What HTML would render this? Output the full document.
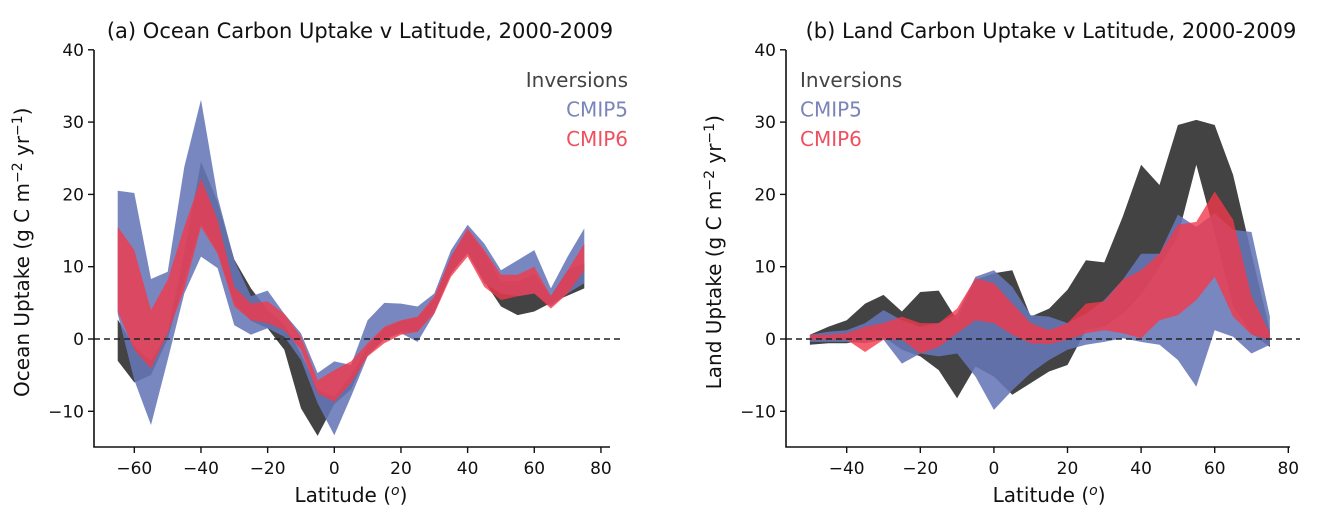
<!DOCTYPE html>
<html><head><meta charset="utf-8"><style>
body{margin:0;background:#fff;width:1334px;height:526px;overflow:hidden}
svg{display:block;font-family:"DejaVu Sans","Liberation Sans",sans-serif}
</style></head><body>
<svg id="chart" width="1334" height="526"></svg>
<script>
const latOcean=[-65,-60,-55,-50,-45,-40,-35,-30,-25,-20,-15,-10,-5,0,5,10,15,20,25,30,35,40,45,50,55,60,65,70,75];
const oceanInvHi=[2.7,-1,-3,1,12,24.5,19,11,7,4,2,-2,-7,-8,-5,-1,1.5,2.5,3,5.5,11.5,15,12,8,8,9,6,9.5,10.5];
const oceanInvLo=[-3,-6,-5,0,8,16,12,5,2.5,1.5,-1.5,-9.6,-13.4,-9,-7,-2,0,1,1,4,9,12,8,4.5,3.3,3.8,5,6,7];
const oceanC5Hi=[20.5,20.2,8.3,9.3,23.8,33.1,19.7,10.9,5.9,6.7,3.5,0.8,-4.7,-3.1,-3.6,2.6,5,4.9,4.5,6.3,12.3,15.8,13.2,9.5,10.9,12.3,7,11.4,15.3];
const oceanC5Lo=[3.5,-5.7,-11.9,-2.9,6.3,11.4,9.8,1.9,0.6,1.5,0.3,-2.9,-8.9,-13.3,-8,-2.4,-0.1,0.8,-0.4,3.5,9.1,11.8,7.7,6.3,5.9,6.3,4.5,6.3,7.7];
const oceanC6Hi=[15.5,12.3,4,8.2,15.5,22.2,16.5,7.2,4.9,5.2,3.5,0.3,-5.7,-4.3,-3.1,-0.6,1.7,2.6,3.1,5.9,11.4,15.3,12.3,8.9,8.9,10,5.9,9.5,13.2];
const oceanC6Lo=[3.8,-1.5,-4.1,0.8,6.8,15.5,11.8,4.5,2.6,2.2,1.2,-1.5,-7.5,-8.7,-6.1,-2.4,-0.6,0.6,1,3.5,8.6,11.4,7.2,5.4,5.9,6.3,4.2,6.3,9.5];
const latLand=[-50,-45,-40,-35,-30,-25,-20,-15,-10,-5,0,5,10,15,20,25,30,35,40,45,50,55,60,65,70,75];
const landInvHi=[0.6,1.7,2.6,4.9,6.1,3.8,6.5,6.7,2.6,8.2,9.1,9.5,3.1,4.2,6.8,10.9,10.6,16.9,24.1,21.3,29.6,30.3,29.6,22.7,11.8,1.2];
const landInvLo=[-0.8,-0.6,-0.6,-0.1,0.3,-1.5,-2.4,-4.3,-8.2,-3.8,-5.2,-7.7,-6.1,-4.5,-3.6,1.2,1.7,3.5,6.1,10,14.2,24.1,14.6,4.5,0.8,-1.1];
const landC5Hi=[0.6,1,1.2,2.2,4,2.6,1.7,2.2,3.5,8.6,9.5,7.2,3.3,3.1,2.2,3.5,5.4,8.2,11.8,11.8,17.2,15.5,17.4,15.1,14.8,3.1];
const landC5Lo=[-0.4,-0.4,-0.4,-0.6,-0.1,-3.4,-2,-2.4,-2,-5.2,-9.8,-7.1,-4.7,-2.9,-1.5,-0.8,-0.4,0.1,-0.4,-0.8,-2.9,-6.6,1.2,0.3,-2,-0.8];
const landC6Hi=[0.6,0.6,0.8,1.7,2.2,3.1,2.2,2.2,4.2,8.4,7.7,4.9,2.2,1.2,2.2,4.9,5.2,8.2,9.5,11.8,15.8,16.2,20.4,16.5,5.9,0.8];
const landC6Lo=[-0.1,-0.1,-0.1,-1.8,-0.1,-0.1,-2,-1.1,0.8,2.6,2.2,0.6,-0.6,-0.7,-0.1,0.8,1.2,0.8,0.1,2.6,3.3,5.4,8.6,3.1,0.6,-0.1];
const yTicks=[-10,0,10,20,30,40];
const xTicksOcean=[-60,-40,-20,0,20,40,60,80];
const xTicksLand=[-40,-20,0,20,40,60,80];

const NS='http://www.w3.org/2000/svg';
const svg=document.getElementById('chart');
function mk(tag,attrs,parent){const e=document.createElementNS(NS,tag);for(const k in attrs)e.setAttribute(k,attrs[k]);(parent||svg).appendChild(e);return e;}
const yS=v=>339-v*7.23;
function panel(o){
  const g=mk('g',{});
  
  
  const xS=v=>o.x0+v*o.k;
  const band=(lat,hi,lo,fill,op,nm)=>{
    let d='M'+lat.map((l,i)=>xS(l).toFixed(1)+','+yS(hi[i]).toFixed(1)).join('L');
    for(let i=lat.length-1;i>=0;i--)d+='L'+xS(lat[i]).toFixed(1)+','+yS(lo[i]).toFixed(1);
    const p=mk('path',{d:d+'Z',fill:fill,'fill-opacity':op},g);
    
    
  };
  band(o.lat,o.invHi,o.invLo,'#333','0.92',o.pre+'-inversions-band');
  band(o.lat,o.c5Hi,o.c5Lo,'#6676b8','0.88',o.pre+'-cmip5-band');
  band(o.lat,o.c6Hi,o.c6Lo,'#f2384a','0.8',o.pre+'-cmip6-band');
  const z=mk('line',{x1:o.left,x2:o.right+10,y1:yS(0),y2:yS(0),stroke:'#222','stroke-width':1.4,'stroke-dasharray':'6,4'},g);
  
  
  const ax=mk('path',{d:`M${o.left},50V447H${o.right}`,fill:'none',stroke:'#111','stroke-width':1.6},g);
  
  
  yTicks.forEach(t=>{
    mk('line',{x1:o.left-6,x2:o.left,y1:yS(t),y2:yS(t),stroke:'#111','stroke-width':1.4},g);
    const tx=mk('text',{x:o.left-10,y:yS(t)+6,'text-anchor':'end','font-size':17,fill:'#111'},g);
    tx.textContent=t<0?'\u2212'+(-t):t;
    
    
  });
  o.xt.forEach(t=>{
    mk('line',{x1:xS(t),x2:xS(t),y1:447,y2:453,stroke:'#111','stroke-width':1.4},g);
    const tx=mk('text',{x:xS(t),y:474,'text-anchor':'middle','font-size':17,fill:'#111'},g);
    tx.textContent=t<0?'\u2212'+(-t):t;
    
    
  });
  const xl=mk('text',{x:xS(o.xlc),y:502,'text-anchor':'middle','font-size':20,fill:'#111'},g);
  xl.innerHTML='Latitude (<tspan font-style="italic" dy="-7" font-size="14">o</tspan><tspan dy="7">)</tspan>';
  
  
  const yl=mk('text',{transform:`translate(${o.left-65},${yS(12)}) rotate(-90)`,'text-anchor':'middle','font-size':20,fill:'#111'},g);
  yl.innerHTML=o.ylab+' Uptake (g C m<tspan dy="-7" font-size="14">\u22122</tspan><tspan dy="7"> yr</tspan><tspan dy="-7" font-size="14">\u22121</tspan><tspan dy="7">)</tspan>';
  
  
  const ti=mk('text',{x:o.tx,y:38,'text-anchor':'middle','font-size':21,fill:'#111'},g);
  ti.textContent=o.title;
  
  
  [['Inversions','#444'],['CMIP5','#7b83bb'],['CMIP6','#f0505e']].forEach((l,i)=>{
    const t=mk('text',{x:o.lx,y:87+i*29.5,'text-anchor':o.la,'font-size':20,fill:l[1]},g);
    t.textContent=l[0];
    
    
  });
}
panel({name:'ocean-panel',pre:'ocean',x0:334.3,k:3.333,left:94,right:610,lat:latOcean,
 invHi:oceanInvHi,invLo:oceanInvLo,c5Hi:oceanC5Hi,c5Lo:oceanC5Lo,c6Hi:oceanC6Hi,c6Lo:oceanC6Lo,
 xt:xTicksOcean,xlc:5,ylab:'Ocean',title:'(a) Ocean Carbon Uptake v Latitude, 2000-2009',tx:360,lx:628,la:'end'});
panel({name:'land-panel',pre:'land',x0:993.9,k:3.68,left:786,right:1290,lat:latLand,
 invHi:landInvHi,invLo:landInvLo,c5Hi:landC5Hi,c5Lo:landC5Lo,c6Hi:landC6Hi,c6Lo:landC6Lo,
 xt:xTicksLand,xlc:15,ylab:'Land',title:'(b) Land Carbon Uptake v Latitude, 2000-2009',tx:1051,lx:800,la:'start'});
</script>
</body></html>
